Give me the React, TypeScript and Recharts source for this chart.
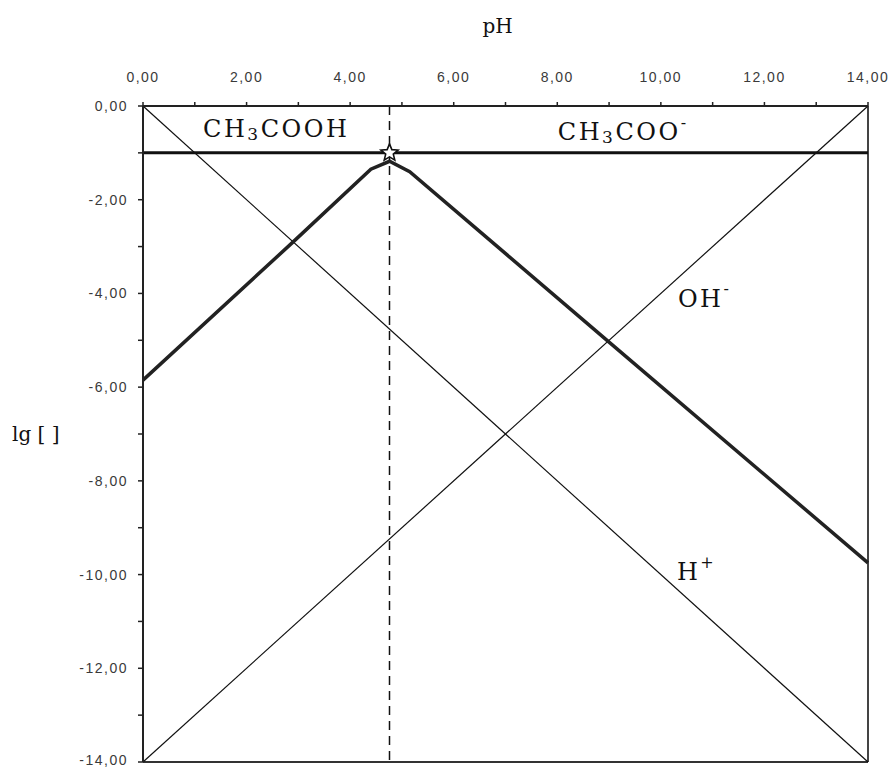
import { LineChart, Line, XAxis, YAxis, ReferenceLine, ReferenceDot } from "recharts";

// pH axis ticks (every unit, labels on even values)
const phTicks = [0, 1, 2, 3, 4, 5, 6, 7, 8, 9, 10, 11, 12, 13, 14];
const lgTicks = [0, -1, -2, -3, -4, -5, -6, -7, -8, -9, -10, -11, -12, -13, -14];

// lg[H+] and lg[OH-] straight lines
const ionPh = [0, 14];
const lgHydrogen = [0, -14];
const lgHydroxide = [-14, 0];
const lgTotal = [-1, -1];

// acetate / acetic acid branches (thick line)
const speciesPh = [0, 2.9, 4.4, 4.76, 5.15, 9, 14];
const lgSpecies = [-5.85, -2.9, -1.35, -1.18, -1.4, -5.04, -9.75];

const pKa = 4.76;

const rows = (xs: number[], ys: number[]) => xs.map((ph, i) => ({ ph, lg: ys[i] }));

const fmt = (v: number) => v.toFixed(2).replace(".", ",");

const serif = "DejaVu Serif, serif";
const sans = "Liberation Sans, Arial, sans-serif";

function TopTick({ x, y, payload }: any) {
  if (payload.value % 2 !== 0) return <g />;
  return (
    <text x={x} y={y} textAnchor="middle" fontFamily={sans} fontSize={14} letterSpacing={1.5} fill="#3a3a3a">
      {fmt(payload.value)}
    </text>
  );
}

function LeftTick({ x, y, payload }: any) {
  if (payload.value % 2 !== 0) return <g />;
  return (
    <text x={x} y={y} dy={5} textAnchor="end" fontFamily={sans} fontSize={14} letterSpacing={1.5} fill="#3a3a3a">
      {fmt(payload.value)}
    </text>
  );
}

function Species({ cx, cy, base, sub, tail, sup, supDy }: any) {
  return (
    <text x={cx} y={cy} fontFamily={serif} fontSize={24} letterSpacing={2.5} fill="#111">
      {base}
      {sub && (
        <tspan fontSize={17} dy={3}>
          {sub}
        </tspan>
      )}
      {tail && <tspan dy={sub ? -3 : 0}>{tail}</tspan>}
      {sup && (
        <tspan fontSize={16} dy={supDy}>
          {sup}
        </tspan>
      )}
    </text>
  );
}

function Star({ cx, cy }: any) {
  const pts: string[] = [];
  for (let i = 0; i < 10; i++) {
    const r = i % 2 === 0 ? 9 : 4;
    const a = -Math.PI / 2 + (i * Math.PI) / 5;
    pts.push(`${cx + r * Math.cos(a)},${cy + r * Math.sin(a)}`);
  }
  return <polygon points={pts.join(" ")} fill="#fff" stroke="#111" strokeWidth={1.6} />;
}

export default function App() {
  return (
    <div style={{ position: "absolute", left: 0, top: 0, background: "#fff" }}>
      <LineChart width={893} height={769} margin={{ top: 66, right: 25, bottom: 7, left: 0 }}>
        <XAxis
          dataKey="ph"
          type="number"
          orientation="top"
          domain={[0, 14]}
          ticks={phTicks}
          height={40}
          tickSize={4}
          tickMargin={20}
          tick={<TopTick />}
          axisLine={{ stroke: "#222", strokeWidth: 2 }}
          tickLine={{ stroke: "#222", strokeWidth: 1.5 }}
          allowDuplicatedCategory={false}
          label={{ value: "pH", position: "top", offset: 33, dx: -8, fontSize: 20, fontFamily: serif, fill: "#111" }}
        />
        <YAxis
          type="number"
          domain={[-14, 0]}
          ticks={lgTicks}
          width={143}
          tickSize={5}
          tickMargin={10}
          tick={<LeftTick />}
          axisLine={{ stroke: "#222", strokeWidth: 2 }}
          tickLine={{ stroke: "#222", strokeWidth: 1.5 }}
          label={{ value: "lg [ ]", position: "insideLeft", offset: 12, fontSize: 20, fontFamily: serif, fill: "#111" }}
        />
        <ReferenceLine x={14} stroke="#444" strokeWidth={2} />
        <ReferenceLine y={-14} stroke="#333" strokeWidth={2} />
        <Line data={rows(ionPh, lgHydrogen)} dataKey="lg" stroke="#111" strokeWidth={1.2} dot={false} isAnimationActive={false} />
        <Line data={rows(ionPh, lgHydroxide)} dataKey="lg" stroke="#111" strokeWidth={1.2} dot={false} isAnimationActive={false} />
        <Line data={rows(ionPh, lgTotal)} dataKey="lg" stroke="#111" strokeWidth={3} dot={false} isAnimationActive={false} />
        <Line data={rows(speciesPh, lgSpecies)} dataKey="lg" stroke="#222" strokeWidth={3.5} dot={false} isAnimationActive={false} />
        <ReferenceLine x={pKa} stroke="#111" strokeWidth={1.5} strokeDasharray="9 6" />
        <ReferenceDot x={pKa} y={-1} r={0} shape={(p: any) => <Star cx={p.cx} cy={p.cy} />} />
        <ReferenceDot x={1.16} y={-0.66} r={0} shape={(p: any) => <Species cx={p.cx} cy={p.cy} base="CH" sub="3" tail="COOH" />} />
        <ReferenceDot x={8.01} y={-0.73} r={0} shape={(p: any) => <Species cx={p.cx} cy={p.cy} base="CH" sub="3" tail="COO" sup="-" supDy={-12} />} />
        <ReferenceDot x={10.33} y={-4.29} r={0} shape={(p: any) => <Species cx={p.cx} cy={p.cy} base="OH" sup="-" supDy={-13} />} />
        <ReferenceDot x={10.31} y={-10.12} r={0} shape={(p: any) => <Species cx={p.cx} cy={p.cy} base="H" sup="+" supDy={-12} />} />
      </LineChart>
    </div>
  );
}
